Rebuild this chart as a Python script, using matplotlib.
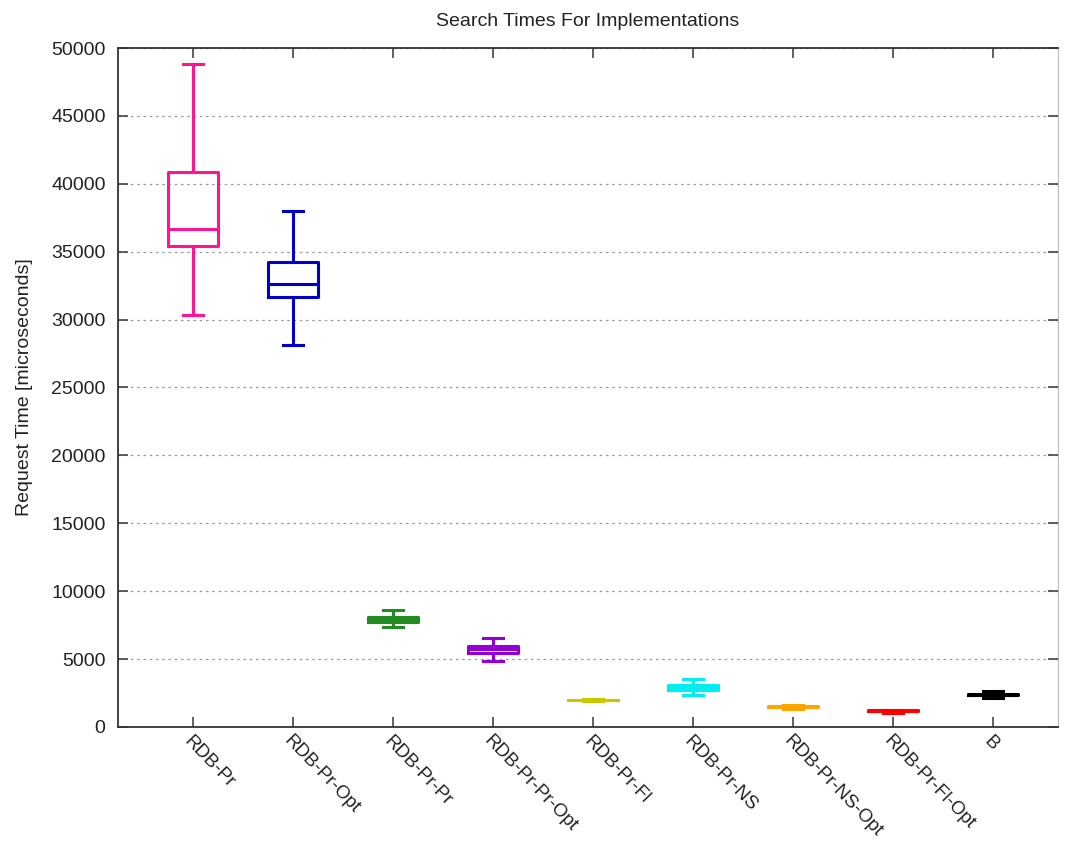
import matplotlib.pyplot as plt

plt.rcParams['font.family'] = ['Liberation Sans', 'DejaVu Sans']

# data (microseconds)
labels = ["RDB-Pr", "RDB-Pr-Opt", "RDB-Pr-Pr", "RDB-Pr-Pr-Opt", "RDB-Pr-Fl",
          "RDB-Pr-NS", "RDB-Pr-NS-Opt", "RDB-Pr-Fl-Opt", "B"]
whislo = [30340, 28100, 7340, 4830, 1900, 2380, 1320, 1060, 2150]
q1 = [35420, 31690, 7760, 5420, 1960, 2720, 1460, 1180, 2360]
med = [36670, 32600, 7950, 5770, 1990, 2900, 1490, 1210, 2390]
q3 = [40870, 34220, 8120, 5960, 2020, 3090, 1520, 1240, 2420]
whishi = [48820, 37970, 8620, 6550, 2080, 3510, 1640, 1260, 2650]
colors = ["#ff1493", "#0000cd", "#228b22", "#9400d3", "#c8c800",
          "#00eeee", "#ffa500", "#ff0000", "#000000"]

stats = []
for i in range(len(labels)):
    stats.append(dict(label=labels[i], whislo=whislo[i], q1=q1[i], med=med[i],
                      q3=q3[i], whishi=whishi[i], fliers=[]))

fig = plt.figure(figsize=(10.7, 8.41), dpi=100)
ax = fig.add_axes([0.1103, 0.1356, 0.8785, 0.8073])

pos = list(range(1, len(labels) + 1))
bp = ax.bxp(stats, positions=pos, widths=0.5, capwidths=0.2, showfliers=False)
for i, c in enumerate(colors):
    for part in ["boxes", "medians"]:
        bp[part][i].set_color(c)
        bp[part][i].set_linewidth(2.2)
    for part in ["whiskers", "caps"]:
        for j in (2 * i, 2 * i + 1):
            bp[part][j].set_color(c)
            bp[part][j].set_linewidth(2.2)

ax.set_xlim(0.25, 9.65)
ax.set_ylim(0, 50000)
ax.set_yticks(range(0, 50001, 5000))
ax.set_xticks(pos)
ax.set_xticklabels(labels, rotation=-46, ha='left', va='top',
                   rotation_mode='anchor', fontsize=13.5, color='#222222')
ax.tick_params(axis='y', labelsize=14, labelcolor='#222222', pad=9)
ax.tick_params(axis='x', pad=4)
ax.tick_params(direction='in', top=True, right=True, length=7,
               width=1.2, color='#444444')
ax.yaxis.grid(True, linestyle=(0, (2, 3)), color='#999999', linewidth=0.9)
ax.set_axisbelow(True)
for side in ["left", "bottom", "top"]:
    ax.spines[side].set_color('#333333')
    ax.spines[side].set_linewidth(1.3)
ax.spines["right"].set_color('#bbbbbb')

ax.set_title("Search Times For Implementations", fontsize=14,
             color='#222222', pad=16)
ax.set_ylabel("Request Time [microseconds]", fontsize=14,
              color='#222222', labelpad=13)

fig.savefig("out.png", dpi=100)
